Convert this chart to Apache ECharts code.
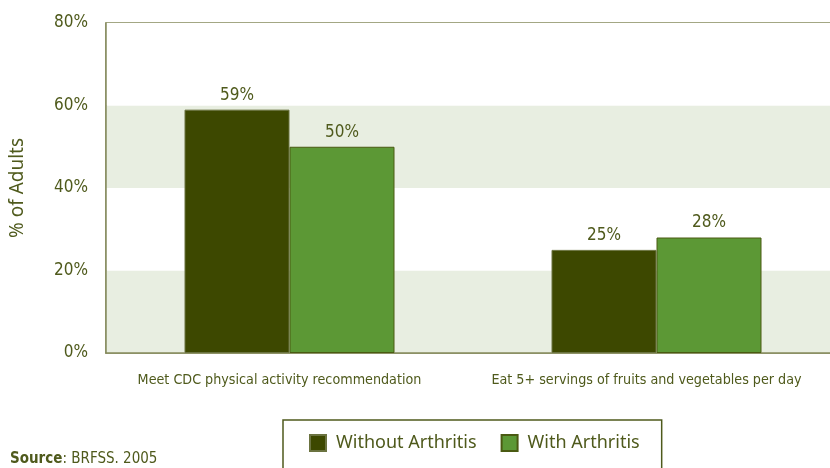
<!DOCTYPE html>
<html>
<head>
<meta charset="utf-8">
<script src="https://cdn.jsdelivr.net/npm/echarts@6/dist/echarts.min.js"></script>
<style>
  html, body { margin: 0; padding: 0; background: #fff; overflow: hidden; }
  #chart { width: 830px; height: 468px; }
</style>
</head>
<body>
<div id="chart"></div>
<script>
// data
var categories = ['Meet CDC physical activity recommendation', 'Eat 5+ servings of fruits and vegetables per day'];
var withoutArthritis = [59, 25];
var withArthritis = [50, 28];
var yTicks = [0, 20, 40, 60, 80];

var narrow = "'DejaVu Sans Condensed', 'Liberation Sans Narrow', sans-serif";
var olive = '#4f5a1c';

var myChart = echarts.init(document.getElementById('chart'));

var option = {
    animation: false,
    grid: {
        left: 106, width: 734, top: 23, bottom: 115,
        outerBoundsMode: 'none',
        show: true, borderColor: '#858a5c', borderWidth: 1.5
    },
    legend: {
        left: 283, top: 420,
        padding: [14, 22, 40, 26],
        borderColor: '#4f5a1c', borderWidth: 1.5,
        itemWidth: 16, itemHeight: 16, itemGap: 24,
        icon: 'rect',
        textStyle: { fontFamily: "'Noto Sans', sans-serif", fontSize: 18, color: olive, padding: [0, 0, 0, 5] },
        data: ['Without Arthritis', 'With Arthritis']
    },
    xAxis: {
        type: 'category',
        data: categories,
        axisLine: { lineStyle: { color: '#858a5c', width: 1.5 } },
        axisTick: { show: false },
        // labels sit a little left of the bar pair in the original
        axisLabel: { interval: 0, fontFamily: narrow, fontSize: 14.2, color: olive, margin: 20, padding: [0, 20, 0, 0] }
    },
    yAxis: {
        type: 'value',
        min: yTicks[0], max: yTicks[yTicks.length - 1], interval: 20,
        name: '% of Adults',
        nameLocation: 'middle',
        nameGap: 79,
        nameTextStyle: { fontFamily: "'Noto Sans', sans-serif", fontSize: 19, color: olive },
        axisLine: { show: true, lineStyle: { color: '#858a5c', width: 1.5 } },
        axisTick: { show: false },
        splitLine: { show: false },
        splitArea: { show: true, areaStyle: { color: ['#e8eee1', '#ffffff'] } },
        axisLabel: { fontFamily: narrow, fontSize: 17, color: olive, margin: 18, formatter: '{value}%' }
    },
    series: [
        {
            name: 'Without Arthritis', type: 'bar',
            data: withoutArthritis, barWidth: 105, barGap: '0%',
            itemStyle: { color: '#3d4800', borderColor: '#6b7340', borderWidth: 1 },
            label: { show: true, position: 'top', distance: 6, formatter: '{c}%', fontFamily: narrow, fontSize: 17, color: olive }
        },
        {
            name: 'With Arthritis', type: 'bar',
            data: withArthritis, barWidth: 105,
            itemStyle: { color: '#5c9835', borderColor: '#4a5a12', borderWidth: 1 },
            label: { show: true, position: 'top', distance: 6, formatter: '{c}%', fontFamily: narrow, fontSize: 17, color: olive }
        }
    ],
    graphic: [{
        type: 'text', left: 10, top: 452,
        style: {
            text: '{b|Source}: BRFSS. 2005',
            fontFamily: narrow,
            fontSize: 15,
            fill: olive,
            rich: { b: { fontFamily: narrow, fontSize: 15, fontWeight: 'bold', fill: olive } }
        }
    }]
};

myChart.setOption(option);
</script>
</body>
</html>
